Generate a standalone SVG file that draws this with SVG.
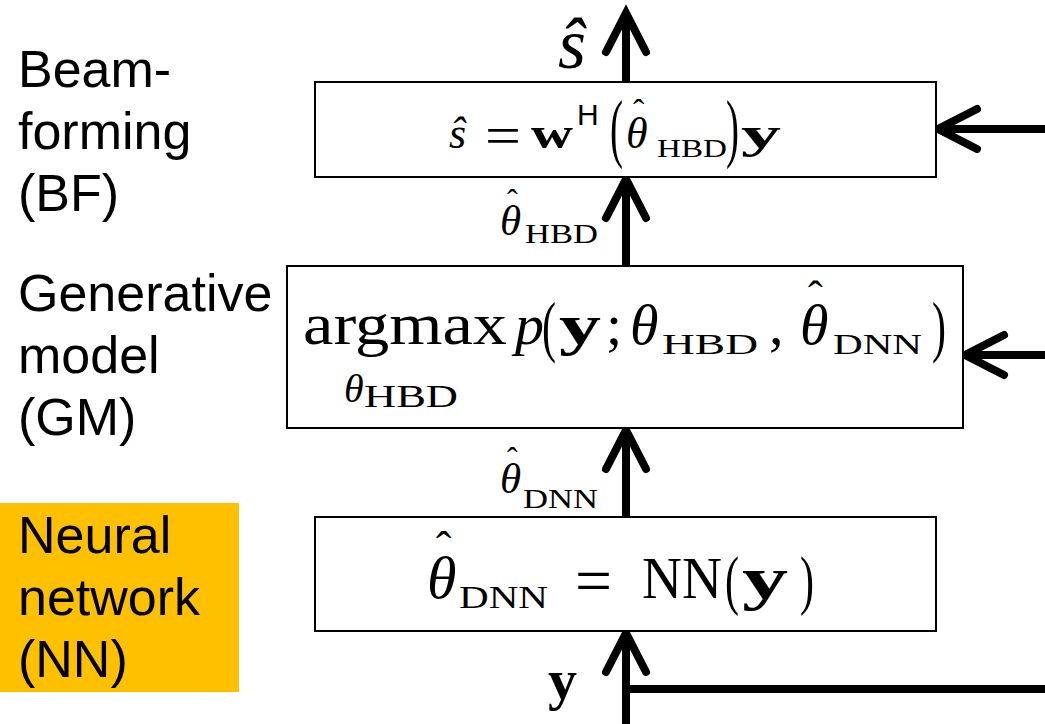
<svg xmlns="http://www.w3.org/2000/svg" width="1045" height="724" viewBox="0 0 1045 724">
<style>
.lbl{font-family:"Liberation Sans",Arial,sans-serif;font-size:52px;fill:#000}
.m{font-family:"Liberation Serif","Times New Roman",serif;fill:#000}
.i{font-style:italic}
.b{font-weight:bold}
.sf{font-family:"Liberation Sans",Arial,sans-serif}
.box{fill:#fff;stroke:#000;stroke-width:2}
.ln{stroke:#000;stroke-width:8;fill:none}
.hd{stroke:#000;stroke-width:8;fill:none;stroke-linecap:round;stroke-linejoin:miter}
</style>
<rect x="0" y="503" width="239" height="189" fill="#FFC000"/>
<g id="labels">
<text class="lbl" x="18" y="87">Beam-</text>
<text class="lbl" x="18" y="149">forming</text>
<text class="lbl" x="18" y="211">(BF)</text>
<text class="lbl" x="18" y="311">Generative</text>
<text class="lbl" x="18" y="373">model</text>
<text class="lbl" x="18" y="435">(GM)</text>
<text class="lbl" x="18" y="553">Neural</text>
<text class="lbl" x="18" y="615">network</text>
<text class="lbl" x="18" y="677">(NN)</text>
</g>
<g id="connectors">
<line class="ln" x1="626" y1="724" x2="626" y2="634"/>
<path class="hd" d="M606,672 L626,633 L646,672"/>
<line class="ln" x1="626" y1="689" x2="1045" y2="689"/>
<line class="ln" x1="626" y1="517" x2="626" y2="431"/>
<path class="hd" d="M606,469 L626,430 L646,469"/>
<line class="ln" x1="626" y1="266" x2="626" y2="180"/>
<path class="hd" d="M606,218 L626,179 L646,218"/>
<line class="ln" x1="626" y1="82" x2="626" y2="14"/>
<path class="hd" d="M606,52 L626,13 L646,52"/>
<line class="ln" x1="1045" y1="129" x2="939" y2="129"/>
<path class="hd" d="M977,109 L938,129 L977,149"/>
<line class="ln" x1="1045" y1="355" x2="966" y2="355"/>
<path class="hd" d="M1004,335 L965,355 L1004,375"/>
</g>
<g id="bf">
<rect class="box" x="315" y="82" width="621" height="95"/>
<text class="m" font-size="44"><tspan class="i" x="449" y="148">ŝ</tspan><tspan x="485" y="154" font-size="54" textLength="36" lengthAdjust="spacingAndGlyphs">=</tspan><tspan class="b" x="531" y="148" textLength="42" lengthAdjust="spacingAndGlyphs">w</tspan><tspan class="sf" x="577" y="125" font-size="30">H</tspan><tspan x="610" y="153" font-size="76" textLength="13" lengthAdjust="spacingAndGlyphs">(</tspan><tspan class="i" x="626" y="148">θ</tspan><tspan x="633" y="123" font-size="34">ˆ</tspan><tspan x="657" y="157" font-size="25" textLength="70" lengthAdjust="spacingAndGlyphs">HBD</tspan><tspan x="726" y="153" font-size="76" textLength="13" lengthAdjust="spacingAndGlyphs">)</tspan><tspan class="b" x="741" y="148" textLength="40" lengthAdjust="spacingAndGlyphs">y</tspan></text>
</g>
<g id="gm">
<rect class="box" x="287" y="266" width="676" height="162"/>
<text class="m" font-size="58"><tspan x="303" y="344" font-size="60" textLength="204" lengthAdjust="spacingAndGlyphs">argmax</tspan><tspan class="i" x="515" y="344">p</tspan><tspan x="542" y="349" font-size="68" textLength="14" lengthAdjust="spacingAndGlyphs">(</tspan><tspan class="b" x="559" y="344" textLength="42" lengthAdjust="spacingAndGlyphs">y</tspan><tspan x="606" y="344">;</tspan><tspan class="i" x="630" y="344">θ</tspan><tspan x="662" y="354" font-size="30" textLength="96" lengthAdjust="spacingAndGlyphs">HBD</tspan><tspan x="769" y="344">,</tspan><tspan class="i" x="800" y="344">θ</tspan><tspan x="808" y="311" font-size="44">ˆ</tspan><tspan x="833" y="354" font-size="30" textLength="89" lengthAdjust="spacingAndGlyphs">DNN</tspan><tspan x="932" y="349" font-size="68" textLength="14" lengthAdjust="spacingAndGlyphs">)</tspan></text>
<text class="m" font-size="40"><tspan class="i" x="344" y="402">θ</tspan><tspan x="364" y="407" font-size="31" textLength="94" lengthAdjust="spacingAndGlyphs">HBD</tspan></text>
</g>
<g id="nn">
<rect class="box" x="315" y="517" width="621" height="114"/>
<text class="m" font-size="60"><tspan class="i" x="427" y="598">θ</tspan><tspan x="436" y="564" font-size="46">ˆ</tspan><tspan x="459" y="608" font-size="32" textLength="89" lengthAdjust="spacingAndGlyphs">DNN</tspan><tspan x="575" y="603" font-size="66" textLength="37" lengthAdjust="spacingAndGlyphs">=</tspan><tspan x="642" y="598" textLength="80" lengthAdjust="spacingAndGlyphs">NN</tspan><tspan x="725" y="602" font-size="66" textLength="14" lengthAdjust="spacingAndGlyphs">(</tspan><tspan class="b" x="742" y="598" textLength="46" lengthAdjust="spacingAndGlyphs">y</tspan><tspan x="800" y="602" font-size="66" textLength="14" lengthAdjust="spacingAndGlyphs">)</tspan></text>
</g>
<g id="edge-labels">
<text class="m i" x="558" y="68" font-size="72">ŝ</text>
<text class="m" font-size="43"><tspan class="i" x="500" y="235">θ</tspan><tspan x="507" y="211" font-size="32">ˆ</tspan><tspan x="525" y="243" font-size="27" textLength="73" lengthAdjust="spacingAndGlyphs">HBD</tspan></text>
<text class="m" font-size="43"><tspan class="i" x="500" y="493">θ</tspan><tspan x="507" y="469" font-size="32">ˆ</tspan><tspan x="523" y="508" font-size="27" textLength="75" lengthAdjust="spacingAndGlyphs">DNN</tspan></text>
<text class="m b" x="548" y="699" font-size="58">y</text>
</g>
</svg>
